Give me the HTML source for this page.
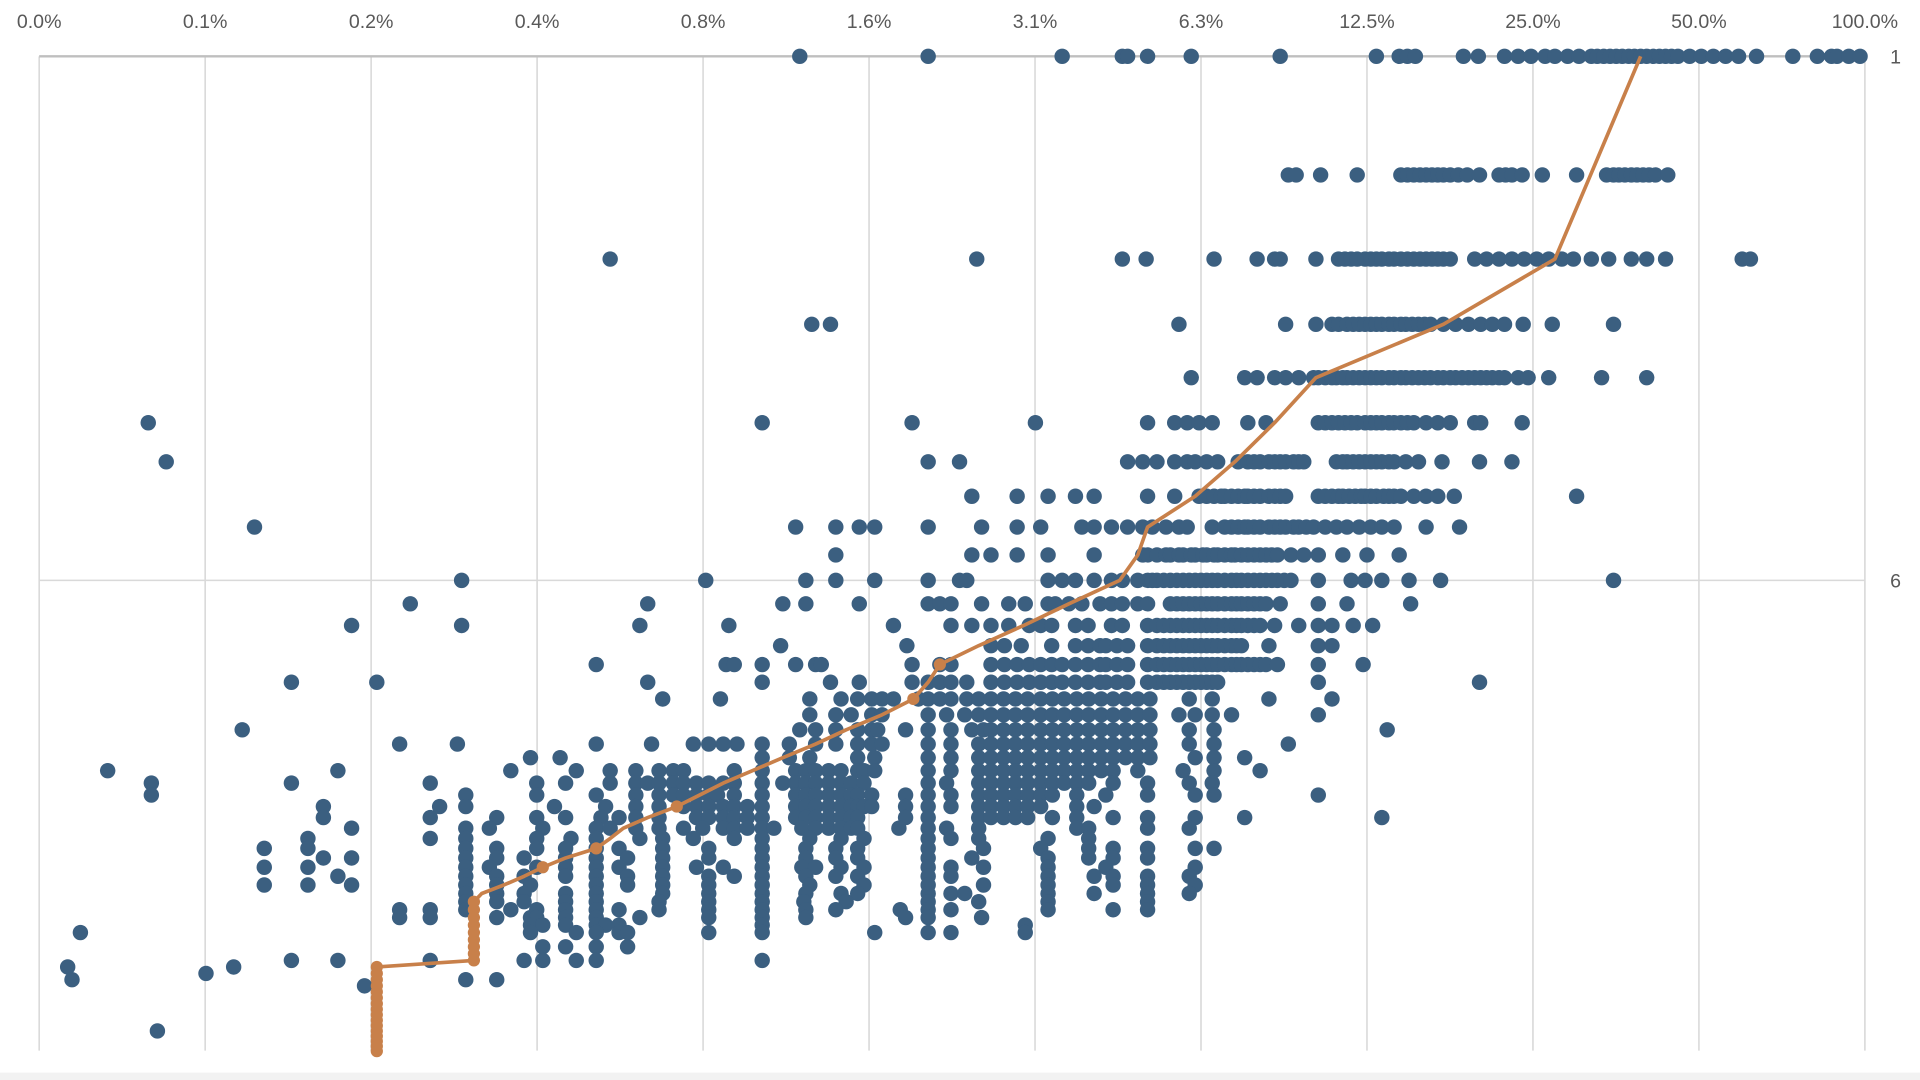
<!DOCTYPE html>
<html><head><meta charset="utf-8"><style>
html,body{margin:0;padding:0;background:#fff;overflow:hidden}
svg{display:block}
text{font-family:"Liberation Sans",sans-serif;fill:#595959}
</style></head><body>
<svg id="chart" width="1920" height="1080" viewBox="0 0 1568 882" xmlns="http://www.w3.org/2000/svg">
<rect x="0" y="0" width="1568" height="882" fill="#fff"/>
<rect x="0" y="876" width="1568" height="6" fill="#f2f2f2"/>
<g id="grid"></g>
<g id="labels"></g>
<g id="dots"></g>
<g id="med"></g>
</svg>
<script>
const xTickLabels = ["0.0%","0.1%","0.2%","0.4%","0.8%","1.6%","3.1%","6.3%","12.5%","25.0%","50.0%","100.0%"];
const xTickValues = [0.048828125,0.09765625,0.1953125,0.390625,0.78125,1.5625,3.125,6.25,12.5,25,50,100];
const yTickValues = [1,6];
const yTickLabels = ["1","6"];

const rowY = [1,1.5,2,2.5,3,3.5,4,4.5,5,5.5,6,6.5,7,7.5,8,8.5,9,9.5,10,10.5,11,11.5,12,12.5,13,13.5,14,14.5,15,15.5,16,16.5,17,17.5,18,18.5,19,19.5,20,21,22,22.5,23,23.5,24,28];
const rowX = [
[1.17,2.0,3.5,4.5,4.6,5.0,6.0,8.7,13,14.3,14.8,15.3,18.7,19.9,22.2,23.5,24.8,26.3,27.4,28.9,30.3,31.9,32.7,33.6,34.5,35.4,36.3,37.3,38.2,39.2,40.2,41.3,42.4,43.5,44.6,45.8,48.1,50.5,53.1,55.9,59,63.6,74,82,87,89,93.5,98],
[9.0,9.3,10.3,12.0,14.4,14.8,15.2,15.6,16.0,16.4,16.8,17.2,17.7,18.3,19.0,20.0,21.7,22.3,22.9,23.9,26.0,30.0,34.0,35.0,35.8,36.7,37.7,38.6,39.6,40.6,41.7,43.9],
[0.53,2.45,4.5,4.97,6.6,7.9,8.5,8.7,10.1,11.1,11.4,11.7,12.0,12.4,12.7,13.0,13.3,13.7,14.0,14.4,14.8,15.2,15.6,16.0,16.4,16.8,17.2,17.7,19.6,20.6,21.7,22.9,24.1,25.4,26.7,28.2,29.6,31.9,34.3,37.7,40.2,43.5,59.9,62],
[1.23,1.33,5.7,8.9,10.1,10.8,11.1,11.5,11.8,12.1,12.4,12.7,13.0,13.3,13.7,14.0,14.4,14.7,15.1,15.5,15.9,16.3,17.2,18.1,19.1,20.1,21.1,22.2,24.0,27.1,35],
[6.0,7.5,7.9,8.5,8.9,9.4,10.0,10.2,10.5,10.8,11.0,11.3,11.5,11.8,12.1,12.4,12.7,13.0,13.3,13.7,14.0,14.4,14.7,15.1,15.5,15.9,16.3,16.8,17.2,17.7,18.1,18.6,19.1,19.6,20.1,20.6,21.1,21.7,22.2,23.5,24.5,26.7,33.3,40.2],
[0.077,1.0,1.87,3.13,5.0,5.6,5.9,6.2,6.55,7.6,8.2,10.2,10.5,10.8,11.1,11.4,11.7,12.0,12.4,12.7,13.0,13.3,13.7,14.0,14.4,14.8,15.2,16.0,16.8,17.7,19.6,20.1,23.9],
[0.083,2.0,2.28,4.6,4.9,5.2,5.6,5.9,6.1,6.4,6.7,7.3,7.6,7.8,8.0,8.3,8.5,8.7,8.9,9.2,9.4,9.6,11.0,11.3,11.5,11.8,12.1,12.4,12.7,13.0,13.3,13.7,14.0,14.7,15.5,17.1,20.0,22.9],
[2.4,2.9,3.3,3.7,4.0,5.0,5.6,6.2,6.4,6.6,6.8,6.9,7.1,7.3,7.5,7.6,7.8,8.0,8.3,8.5,8.7,8.9,10.2,10.5,10.8,11.1,11.3,11.6,11.9,12.2,12.4,12.7,13.0,13.4,13.7,14.0,14.4,15.2,16.0,16.8,18.0,30.0],
[0.12,1.15,1.36,1.5,1.6,2.0,2.5,2.9,3.2,3.8,4.0,4.3,4.6,4.9,5.1,5.4,5.7,5.9,6.55,6.9,7.1,7.3,7.5,7.6,7.8,8.0,8.3,8.5,8.7,8.9,9.2,9.4,9.7,10.0,10.5,11.0,11.5,12.1,12.7,13.3,14.0,16.0,18.4],
[1.36,2.4,2.6,2.9,3.3,4.0,4.9,5.0,5.2,5.4,5.5,5.7,5.8,6.0,6.1,6.3,6.4,6.6,6.7,6.9,7.1,7.2,7.4,7.6,7.8,8.0,8.2,8.4,8.6,9.1,9.6,10.2,11.3,12.5,14.3],
[0.285,0.79,1.2,1.36,1.6,2.0,2.28,2.35,3.3,3.5,3.7,4.0,4.3,4.5,4.8,5.0,5.1,5.2,5.35,5.5,5.65,5.8,5.95,6.1,6.25,6.4,6.55,6.7,6.9,7.1,7.25,7.4,7.6,7.8,8.0,8.2,8.4,8.6,8.85,9.1,10.2,11.7,12.4,13.3,14.9,17.0,35],
[0.23,0.62,1.09,1.2,1.5,2.0,2.1,2.2,2.5,2.8,3.0,3.3,3.4,3.6,3.8,4.1,4.3,4.5,4.8,5.0,5.5,5.65,5.8,5.95,6.1,6.25,6.4,6.55,6.7,6.9,7.1,7.25,7.4,7.6,7.8,8.0,8.2,8.7,10.2,11.5,15.0],
[0.18,0.285,0.6,0.87,1.73,2.2,2.4,2.6,2.8,3.05,3.2,3.35,3.7,3.9,4.3,4.5,5.0,5.2,5.35,5.5,5.65,5.8,5.95,6.1,6.25,6.4,6.55,6.7,6.9,7.1,7.25,7.4,7.6,7.8,8.0,8.5,9.4,10.2,10.8,11.8,12.8],
[1.08,1.83,2.6,2.75,2.95,3.35,3.7,3.9,4.1,4.2,4.4,4.6,5.0,5.2,5.35,5.5,5.65,5.8,5.95,6.1,6.25,6.4,6.55,6.7,6.9,7.1,7.25,7.4,8.3,10.2,10.8],
[0.5,0.86,0.89,1.0,1.15,1.25,1.28,1.87,2.1,2.2,2.6,2.75,2.9,3.05,3.2,3.35,3.5,3.7,3.9,4.1,4.2,4.4,4.6,5.0,5.2,5.35,5.5,5.65,5.8,5.95,6.1,6.25,6.4,6.55,6.7,6.9,7.1,7.25,7.4,7.6,7.8,8.0,8.2,8.6,10.2,12.3],
[0.14,0.2,0.62,1.0,1.33,1.5,1.87,2.0,2.1,2.2,2.35,2.6,2.75,2.9,3.05,3.2,3.35,3.5,3.7,3.9,4.1,4.2,4.4,4.6,5.0,5.2,5.35,5.5,5.65,5.8,5.95,6.1,6.25,6.4,6.55,6.7,10.2,20],
[0.66,0.84,1.22,1.39,1.49,1.58,1.65,1.73,1.92,2.0,2.1,2.2,2.35,2.47,2.6,2.74,2.88,3.03,3.2,3.36,3.53,3.72,3.91,4.12,4.33,4.56,4.8,5.05,5.95,6.55,8.3,10.8],
[1.22,1.36,1.45,1.58,1.65,2.0,2.16,2.33,2.47,2.6,2.74,2.88,3.03,3.2,3.36,3.53,3.72,3.91,4.12,4.33,4.56,4.8,5.05,5.7,6.1,6.55,7.1,10.2],
[0.114,1.17,1.25,1.36,1.49,1.58,1.62,1.82,2.0,2.2,2.4,2.52,2.6,2.74,2.88,3.03,3.2,3.36,3.53,3.72,3.91,4.12,4.33,4.56,4.8,5.05,5.95,6.6,13.6],
[0.22,0.28,0.5,0.63,0.75,0.8,0.85,0.9,1.0,1.12,1.25,1.36,1.49,1.58,1.65,2.0,2.2,2.47,2.6,2.74,2.88,3.03,3.2,3.36,3.53,3.72,3.91,4.12,4.33,4.56,4.8,5.05,5.95,6.6,9.0],
[0.38,0.43,1.0,1.12,1.22,1.49,1.6,2.0,2.2,2.47,2.6,2.74,2.88,3.03,3.2,3.36,3.53,3.72,3.91,4.12,4.33,4.56,4.8,5.05,6.1,6.6,7.5],
[0.065,0.17,0.35,0.46,0.53,0.59,0.65,0.69,0.72,0.89,1.0,1.15,1.2,1.25,1.32,1.39,1.49,1.53,1.6,2.0,2.2,2.47,2.6,2.74,2.88,3.03,3.2,3.36,3.53,3.72,3.91,4.12,4.33,4.8,5.8,6.6,8.0],
[0.078,0.14,0.25,0.39,0.44,0.53,0.59,0.62,0.65,0.69,0.72,0.76,0.8,0.85,0.89,1.0,1.09,1.15,1.2,1.25,1.32,1.39,1.45,1.53,2.0,2.16,2.47,2.6,2.74,2.88,3.03,3.2,3.36,3.53,3.72,3.91,4.33,5.0,5.95,6.55],
[0.078,0.29,0.39,0.5,0.59,0.65,0.69,0.72,0.76,0.8,0.83,0.89,1.0,1.15,1.2,1.25,1.32,1.39,1.45,1.49,1.58,1.82,2.0,2.2,2.47,2.6,2.74,2.88,3.03,3.2,3.36,3.72,4.2,5.0,6.1,6.6,10.2],
[0.16,0.26,0.29,0.42,0.52,0.59,0.65,0.72,0.76,0.8,0.85,0.89,0.94,1.0,1.15,1.2,1.25,1.32,1.39,1.45,1.49,1.53,1.58,1.82,2.0,2.2,2.47,2.6,2.74,2.88,3.03,3.2,3.72,4.0],
[0.16,0.25,0.33,0.39,0.44,0.51,0.55,0.59,0.65,0.76,0.8,0.85,0.89,0.94,1.0,1.15,1.2,1.25,1.32,1.39,1.45,1.49,1.82,2.0,2.47,2.6,2.74,2.88,3.03,3.36,3.72,4.33,5.0,6.1,7.5,13.3],
[0.18,0.29,0.32,0.4,0.5,0.53,0.59,0.65,0.72,0.78,0.85,0.89,0.94,1.0,1.05,1.18,1.25,1.32,1.39,1.45,1.49,1.77,2.0,2.16,2.47,3.72,3.91,5.0,5.95],
[0.15,0.25,0.29,0.39,0.45,0.5,0.6,0.66,0.75,0.89,1.0,1.22,1.39,1.53,2.0,2.2,2.47,3.3,3.91],
[0.125,0.15,0.29,0.33,0.39,0.44,0.5,0.55,0.66,0.8,1.0,1.2,1.36,1.49,2.0,2.52,3.2,3.91,4.33,5.0,6.1,6.6],
[0.16,0.18,0.29,0.33,0.37,0.44,0.5,0.57,0.66,0.8,1.0,1.2,1.36,1.49,2.0,2.4,3.3,3.91,4.33,5.0],
[0.125,0.15,0.29,0.32,0.39,0.44,0.5,0.55,0.66,0.76,0.85,1.0,1.18,1.25,1.39,1.53,2.0,2.2,2.52,3.3,4.2,6.1],
[0.17,0.29,0.33,0.37,0.44,0.5,0.57,0.66,0.8,0.89,1.0,1.2,1.36,1.49,2.0,2.2,3.3,4.0,4.33,5.0,5.95],
[0.125,0.15,0.18,0.29,0.33,0.38,0.5,0.57,0.66,0.8,1.0,1.22,1.53,2.0,2.52,3.3,4.33,5.0,6.1],
[0.29,0.33,0.37,0.44,0.5,0.66,0.8,1.0,1.2,1.39,1.49,2.0,2.2,2.33,3.3,4.0,5.0,5.95],
[0.29,0.33,0.37,0.44,0.5,0.65,0.8,1.0,1.19,1.42,2.0,2.47,3.3,5.0],
[0.22,0.25,0.29,0.35,0.39,0.44,0.5,0.55,0.65,0.8,1.0,1.2,1.36,1.78,2.0,2.2,3.3,4.33,5.0],
[0.22,0.25,0.33,0.38,0.39,0.44,0.5,0.6,0.8,1.0,1.2,1.82,2.0,2.5],
[0.38,0.4,0.44,0.5,0.52,0.55,1.0,3.0],
[0.058,0.38,0.46,0.5,0.55,0.57,0.8,1.0,1.6,2.0,2.2,3.0],
[0.4,0.44,0.5,0.57],
[0.14,0.17,0.25,0.37,0.4,0.46,0.5,1.0],
[0.055,0.11],
[0.098],
[0.056,0.29,0.33],
[0.19],
[0.080]
];

const medY = [1,1.5,2,2.5,3,3.5,4,4.5,5,5.5,6,6.5,7,7.5,8,8.5,9,9.5,10,10.5,11,11.5,12,12.5,13,13.5,14,14.5,15,15.5,16,16.5,17,17.5,18,18.5,19,19.5,20,20.5,21,21.5,22,22.5,23,23.5,24,24.5,25,25.5,26,26.5,27,27.5,28,28.5,29,29.5,30];
const medX = [39.2,31.8,27.4,17.2,10.1,8.5,7.2,6.1,5.0,4.8,4.45,3.6,2.98,2.47,2.1,2.0,1.88,1.65,1.42,1.25,1.09,0.96,0.85,0.77,0.70,0.62,0.56,0.53,0.50,0.44,0.40,0.37,0.34,0.31,0.30,0.30,0.30,0.30,0.30,0.30,0.30,0.30,0.30,0.2,0.2,0.2,0.2,0.2,0.2,0.2,0.2,0.2,0.2,0.2,0.2,0.2,0.2,0.2,0.2];
const medMarkerY = [8,9,13,15,16,18,18.5,19,19.5,20,20.5,21,21.5,22,22.5,23,23.5,24,24.5,25,25.5,26,26.5,27,27.5,28,28.5,29,29.5,30];

const NS = "http://www.w3.org/2000/svg";
const X0 = 32, X1 = 1523, Y0 = 46, Y1 = 858;
function xScale(p){ return X0 + (Math.log2(p/100) + 11) * (X1 - X0) / 11; }
function yScale(v){ return Y0 + Math.log10(v) * 550; }
function mk(tag, attrs, parent){
  const e = document.createElementNS(NS, tag);
  for (const k in attrs) e.setAttribute(k, attrs[k]);
  parent.appendChild(e);
  return e;
}
const grid = document.getElementById('grid');
const labels = document.getElementById('labels');
xTickValues.forEach((v, i) => {
  const x = xScale(v);
  const l = mk('line', {x1: x, x2: x, y1: Y0, y2: Y1, stroke: '#d9d9d9', 'stroke-width': 1.3}, grid);
  
  
  const t = mk('text', {x: x, y: 23, 'text-anchor': 'middle', 'font-size': 16}, labels);
  t.textContent = xTickLabels[i];
  
  
});
yTickValues.forEach((v, i) => {
  const y = yScale(v);
  const l = mk('line', {x1: X0, x2: X1, y1: y, y2: y, stroke: i === 0 ? '#bfbfbf' : '#d9d9d9', 'stroke-width': i === 0 ? 2 : 1.3}, grid);
  
  
  const t = mk('text', {x: 1548, y: y + 6, 'text-anchor': 'middle', 'font-size': 16}, labels);
  t.textContent = yTickLabels[i];
  
  
});
const dots = document.getElementById('dots');
rowY.forEach((yv, r) => {
  rowX[r].forEach(xv => {
    const c = mk('circle', {cx: xScale(xv), cy: yScale(yv), r: 6.3, fill: '#3b5f80'}, dots);
    
    
  });
});
const med = document.getElementById('med');
const pts = medY.map((yv, i) => xScale(medX[i]) + ',' + yScale(yv)).join(' ');
const pl = mk('polyline', {points: pts, fill: 'none', stroke: '#c8804a', 'stroke-width': 3, 'stroke-linejoin': 'round'}, med);


medY.forEach((yv, i) => {
  if (medMarkerY.indexOf(yv) < 0) return;
  const c = mk('circle', {cx: xScale(medX[i]), cy: yScale(yv), r: 5, fill: '#c8804a'}, med);
  
  
});
</script>
</body></html>
